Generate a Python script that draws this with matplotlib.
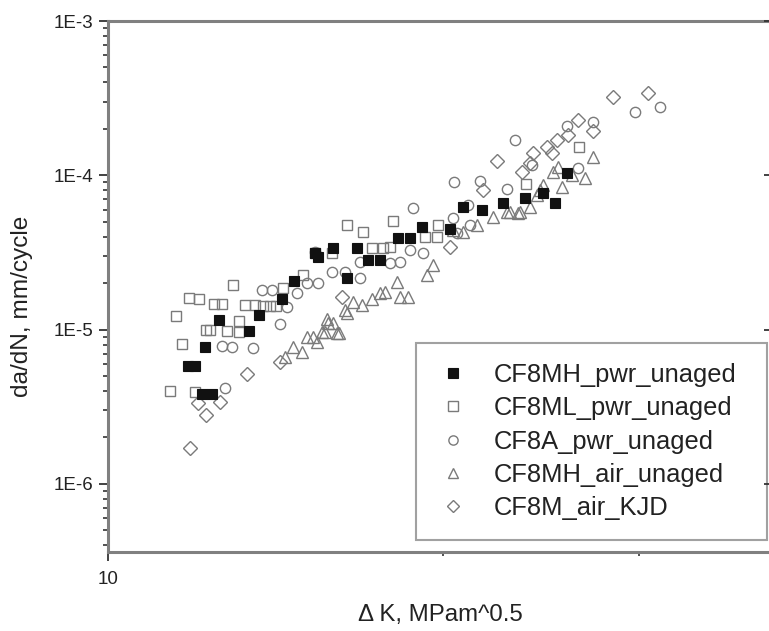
import numpy as np
import matplotlib
matplotlib.use("Agg")
import matplotlib.pyplot as plt
from matplotlib.ticker import FixedLocator, NullFormatter, FuncFormatter, LogLocator

plt.rcParams['font.family'] = ['Liberation Sans', 'DejaVu Sans']

# ---------------- data ----------------
mh_pwr_K = [12.14, 12.39, 11.81, 11.97, 12.22, 12.58, 13.38, 13.66, 14.32, 14.69,
            15.45, 15.94, 15.35, 16.39, 16.75, 17.14, 17.56, 18.23, 18.67, 19.13,
            20.29, 20.83, 21.67, 22.66, 23.70, 24.61, 25.21, 25.83]
mh_pwr_da = [3.81e-6, 3.81e-6, 5.81e-6, 5.81e-6, 7.68e-6, 1.15e-5, 9.84e-6, 1.24e-5, 1.58e-5, 2.07e-5,
             2.97e-5, 3.40e-5, 3.12e-5, 2.15e-5, 3.40e-5, 2.83e-5, 2.83e-5, 3.90e-5, 3.90e-5, 4.64e-5,
             4.49e-5, 6.20e-5, 5.96e-5, 6.58e-5, 7.09e-5, 7.64e-5, 6.58e-5, 1.03e-4]

ml_pwr_K = [11.38, 11.96, 11.65, 11.51, 11.83, 12.08, 12.25, 12.35, 12.46, 12.65,
            12.78, 12.96, 13.12, 13.12, 13.28, 13.55, 13.79, 13.98, 14.17, 14.37,
            14.98, 15.35, 15.89, 16.39, 16.94, 17.26, 17.65, 17.92, 18.03, 19.27,
            19.74, 19.81, 23.75, 26.50]
ml_pwr_da = [4.02e-6, 3.96e-6, 8.07e-6, 1.22e-5, 1.61e-5, 1.58e-5, 9.94e-6, 9.94e-6, 1.47e-5, 1.47e-5,
             9.79e-6, 1.95e-5, 1.14e-5, 9.65e-6, 1.44e-5, 1.44e-5, 1.42e-5, 1.42e-5, 1.42e-5, 1.85e-5,
             2.26e-5, 3.15e-5, 3.12e-5, 4.76e-5, 4.31e-5, 3.36e-5, 3.36e-5, 3.45e-5, 5.06e-5, 4.00e-5,
             4.00e-5, 4.76e-5, 8.78e-5, 1.52e-4]

a_pwr_K = [12.74, 12.65, 12.92, 13.51, 14.27, 14.47, 13.76, 14.03, 14.77, 15.08,
           15.45, 15.89, 16.33, 15.35, 16.84, 16.84, 17.92, 18.29, 18.67, 19.20,
           20.43, 20.57, 21.15, 20.46, 21.59, 22.82, 21.07, 23.21, 24.03, 25.83,
           27.29, 29.75, 31.33, 26.46, 18.78]
a_pwr_da = [4.20e-6, 7.86e-6, 7.74e-6, 7.56e-6, 1.08e-5, 1.41e-5, 1.80e-5, 1.80e-5, 1.73e-5, 2.01e-5,
            2.01e-5, 2.37e-5, 2.37e-5, 3.20e-5, 2.15e-5, 2.75e-5, 2.69e-5, 2.75e-5, 3.28e-5, 3.12e-5,
            5.26e-5, 4.21e-5, 4.76e-5, 9.01e-5, 9.23e-5, 8.11e-5, 6.42e-5, 1.69e-4, 1.17e-4, 2.09e-4,
            2.23e-4, 2.58e-4, 2.76e-4, 1.11e-4, 6.11e-5]

mh_air_K = [14.42, 14.67, 14.93, 15.08, 15.29, 15.40, 15.56, 15.67, 15.72, 15.77,
            15.94, 16.05, 16.14, 16.33, 16.39, 16.61, 16.90, 17.26, 17.56, 17.74,
            18.17, 18.29, 18.61, 19.33, 19.60, 20.43, 20.85, 21.45, 22.19, 22.82,
            22.97, 23.37, 23.45, 23.94, 24.28, 24.45, 24.61, 25.12, 25.38, 25.56,
            26.10, 26.83, 27.29]
mh_air_da = [6.67e-6, 7.74e-6, 7.19e-6, 8.99e-6, 8.99e-6, 8.35e-6, 9.69e-6, 9.69e-6, 1.18e-5, 1.10e-5,
             1.10e-5, 9.46e-6, 9.46e-6, 1.34e-5, 1.28e-5, 1.52e-5, 1.44e-5, 1.59e-5, 1.72e-5, 1.76e-5,
             2.04e-5, 1.63e-5, 1.63e-5, 2.26e-5, 2.62e-5, 4.42e-5, 4.31e-5, 4.76e-5, 5.39e-5, 5.81e-5,
             5.81e-5, 5.67e-5, 5.81e-5, 6.26e-5, 7.45e-5, 8.03e-5, 8.65e-5, 1.055e-4, 1.14e-4, 8.44e-5,
             1.005e-4, 9.56e-5, 1.31e-4]

kjd_K = [11.85, 12.25, 12.04, 12.61, 13.32, 14.27, 16.22, 20.29, 21.71, 22.35,
         23.53, 23.94, 24.11, 24.78, 25.04, 25.30, 25.92, 26.46, 27.29, 28.44,
         30.54]
kjd_da = [1.70e-6, 2.80e-6, 3.33e-6, 3.41e-6, 5.12e-6, 6.19e-6, 1.63e-5, 3.45e-5, 8.03e-5, 1.24e-4,
          1.055e-4, 1.20e-4, 1.39e-4, 1.53e-4, 1.39e-4, 1.69e-4, 1.82e-4, 2.28e-4, 1.95e-4, 3.20e-4,
          3.40e-4]

series_labels = ["CF8MH_pwr_unaged", "CF8ML_pwr_unaged", "CF8A_pwr_unaged",
                 "CF8MH_air_unaged", "CF8M_air_KJD"]

x_label = "Δ K, MPam^0.5"
y_label = "da/dN, mm/cycle"

# ---------------- figure ----------------
W, H = 769, 631
fig = plt.figure(figsize=(W / 100, H / 100), dpi=100)
ax = fig.add_axes([108 / W, (H - 552) / H, 664 / W, 531 / H])

gray = '#808080'
mk_gray = '#7a7a7a'
txt = '#222222'

ax.plot(mh_pwr_K, mh_pwr_da, linestyle='none', marker='s', ms=7.6,
        mfc='#111111', mec='#111111', mew=0.8, label=series_labels[0], zorder=5)
ax.plot(ml_pwr_K, ml_pwr_da, linestyle='none', marker='s', ms=7.6,
        mfc='none', mec=mk_gray, mew=1.0, label=series_labels[1], zorder=4)
ax.plot(a_pwr_K, a_pwr_da, linestyle='none', marker='o', ms=7.4,
        mfc='none', mec=mk_gray, mew=1.0, label=series_labels[2], zorder=4)
ax.plot(mh_air_K, mh_air_da, linestyle='none', marker='^', ms=8.0,
        mfc='none', mec=mk_gray, mew=1.0, label=series_labels[3], zorder=4)
ax.plot(kjd_K, kjd_da, linestyle='none', marker='D', ms=6.8,
        mfc='none', mec=mk_gray, mew=1.0, label=series_labels[4], zorder=4)

ax.set_xscale('log')
ax.set_yscale('log')
ax.set_xlim(10, 39.5)
ax.set_ylim(3.62e-7, 1e-3)

# spines
for s in ax.spines.values():
    s.set_color(gray)
    s.set_linewidth(2.2)

# x ticks
ax.xaxis.set_major_locator(FixedLocator([10]))
ax.xaxis.set_major_formatter(FuncFormatter(lambda v, p: f"{int(round(v))}"))
ax.xaxis.set_minor_locator(FixedLocator([20, 30]))
ax.xaxis.set_minor_formatter(NullFormatter())

# y ticks
ax.yaxis.set_major_locator(FixedLocator([1e-6, 1e-5, 1e-4, 1e-3]))
ax.yaxis.set_major_formatter(FuncFormatter(lambda v, p: f"1E{int(round(np.log10(v)))}"))
ax.yaxis.set_minor_locator(LogLocator(base=10, subs=np.arange(2, 10) * 1.0, numticks=20))
ax.yaxis.set_minor_formatter(NullFormatter())

ax.tick_params(axis='both', which='major', direction='out', length=6.5, width=1.3,
               color='#333333', labelsize=13.5, labelcolor=txt)
ax.tick_params(axis='y', which='major', pad=4)
ax.tick_params(axis='x', which='major', pad=7)
ax.tick_params(axis='y', which='minor', direction='out', length=3.5, width=1.2, color='#333333')
ax.tick_params(axis='x', which='minor', direction='out', length=3.0, width=1.2, color='#333333')
ax.tick_params(top=False, right=False, which='both')

# right side inward major ticks
ax2 = ax.twinx()
ax2.set_yscale('log')
ax2.set_ylim(ax.get_ylim())
ax2.yaxis.set_major_locator(FixedLocator([1e-6, 1e-5, 1e-4, 1e-3]))
ax2.yaxis.set_minor_locator(FixedLocator([]))
ax2.tick_params(axis='y', which='major', direction='in', length=6, width=1.3,
                color='#333333', labelright=False)
for s in ax2.spines.values():
    s.set_visible(False)

# labels
ax.set_xlabel(x_label, fontsize=17.3, color=txt)
ax.xaxis.set_label_coords(0.5, -0.098)
ax.set_ylabel(y_label, fontsize=17.6, color=txt)
ax.yaxis.set_label_coords(-0.113, 0.463)

# legend
leg_x0, leg_top, leg_w, leg_h = 416, 342.7, 351, 197.3
leg = ax.legend(loc='upper left',
                bbox_to_anchor=(leg_x0 / W, (H - leg_top - leg_h) / H, leg_w / W, leg_h / H),
                bbox_transform=fig.transFigure, mode='expand', fontsize=18.4, frameon=True,
                fancybox=False, edgecolor='#8a8a8a', borderaxespad=0,
                borderpad=0.8, handlelength=1.3, handletextpad=0.95,
                labelspacing=0.36, markerscale=0.9, numpoints=1)
leg.get_frame().set_linewidth(1.5)
for t in leg.get_texts():
    t.set_color(txt)
leg.set_zorder(10)

fig.savefig("out.png", dpi=100)
